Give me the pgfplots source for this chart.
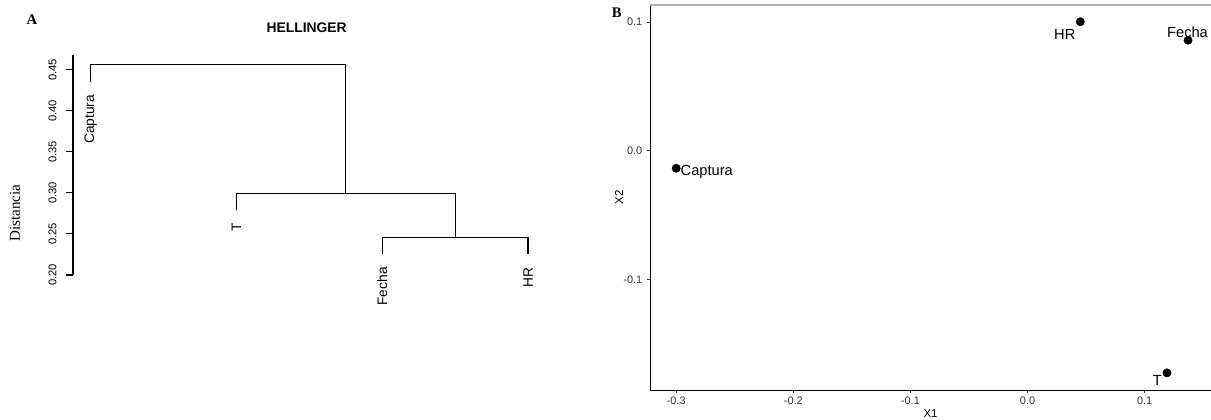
\documentclass[border=0pt]{standalone}
\usepackage{fontspec}
\setmainfont{Liberation Serif}
\setsansfont{Liberation Sans}
\usepackage{pgfplots}
\pgfplotsset{compat=1.18}
\definecolor{gray30}{HTML}{4D4D4D}
\definecolor{gray20}{HTML}{333333}

\begin{document}
\begin{tikzpicture}
\path[use as bounding box] (0,0) rectangle (908.25pt,314.25pt);

% panel A: dendrogram (leaves at x = 1..4)
\begin{axis}[
  at={(54.75pt,108pt)}, anchor=south west,
  scale only axis, width=354.5pt, height=165pt,
  xmin=0.879, xmax=4.121, ymin=0.20, ymax=0.468,
  axis x line=none, axis y line*=left,
  ytick={0.20,0.25,0.30,0.35,0.40,0.45},
  tick align=outside, major tick length=4.9pt,
  tick style={black, line width=0.8pt},
  axis line style={black, line width=0.8pt},
  yticklabel style={font=\sffamily\fontsize{8.4}{8}\selectfont, rotate=90, anchor=south, inner sep=0pt, yshift=7.2pt,
    /pgf/number format/fixed, /pgf/number format/fixed zerofill, /pgf/number format/precision=2,
    /pgf/number format/assume math mode=true},
  clip=false,
]
\addplot[black, line width=0.8pt] coordinates {(3,0.225) (3,0.246) (4,0.246) (4,0.225)};
\addplot[black, line width=0.8pt] coordinates {(2,0.279) (2,0.2995) (3.5,0.2995) (3.5,0.246)};
\addplot[black, line width=0.8pt] coordinates {(1,0.435) (1,0.456) (2.75,0.456) (2.75,0.2995)};
\tikzset{leaf/.style={rotate=90, anchor=east, inner sep=0pt, font=\sffamily\fontsize{10.3}{10}\selectfont}}
\node[leaf] at ([yshift=-9.4pt]axis cs:1,0.435) {Captura};
\node[leaf] at ([yshift=-9.4pt]axis cs:2,0.279) {T};
\node[leaf] at ([yshift=-9.4pt]axis cs:3,0.225) {Fecha};
\node[leaf] at ([yshift=-9.4pt]axis cs:4,0.225) {HR};
\end{axis}
\node[font=\bfseries\fontsize{11}{11}\selectfont] at (24pt,299.25pt) {A};
\node[font=\sffamily\bfseries\fontsize{10.4}{10}\selectfont] at (230pt,293.25pt) {HELLINGER};
\node[rotate=90, font=\fontsize{11.3}{11}\selectfont] at (11.25pt,154.5pt) {Distancia};

% panel B: ordination
\begin{axis}[
  at={(487.8pt,21.75pt)}, anchor=south west,
  scale only axis, width=420.45pt, height=288.75pt,
  xmin=-0.322, xmax=0.1566, ymin=-0.186, ymax=0.1132,
  axis x line*=bottom, axis y line*=left,
  xtick={-0.3,-0.2,-0.1,0,0.1}, ytick={-0.1,0,0.1},
  tick align=outside, major tick length=2.6pt,
  tick style={gray20, line width=0.6pt},
  axis line style={black, line width=0.6pt},
  ticklabel style={font=\sffamily\fontsize{8.2}{8}\selectfont, text=gray20,
    /pgf/number format/fixed, /pgf/number format/fixed zerofill, /pgf/number format/precision=1,
    /pgf/number format/assume math mode=true},
  xticklabel style={yshift=1pt},
  clip=false,
]
\draw[gray!60, line width=0.9pt] (rel axis cs:0,1) -- (rel axis cs:1,1);
\addplot[only marks, mark=*, mark size=3.1pt, black] table {
x y
-0.300 -0.0137
0.045 0.1002
0.137 0.0858
0.119 -0.1727
};
\tikzset{lab/.style={inner sep=0pt, font=\sffamily\fontsize{11}{11}\selectfont}}
\node[lab, anchor=base west] at ([xshift=3.2pt, yshift=-5.5pt]axis cs:-0.300,-0.0137) {Captura};
\node[lab, anchor=base east] at ([xshift=-3.5pt, yshift=-13pt]axis cs:0.045,0.1002) {HR};
\node[lab, anchor=base] at ([xshift=-0.4pt, yshift=2.2pt]axis cs:0.137,0.0858) {Fecha};
\node[lab, anchor=base east] at ([xshift=-3.6pt, yshift=-9.2pt]axis cs:0.119,-0.1727) {T};
\end{axis}
\node[font=\bfseries\fontsize{11}{11}\selectfont] at (462.5pt,304.9pt) {B};
\node[font=\sffamily\fontsize{8.6}{8}\selectfont] at (697.9pt,3.9pt) {X1};
\node[rotate=90, font=\sffamily\fontsize{8.6}{8}\selectfont] at (464.25pt,166.1pt) {X2};
\end{tikzpicture}
\end{document}
